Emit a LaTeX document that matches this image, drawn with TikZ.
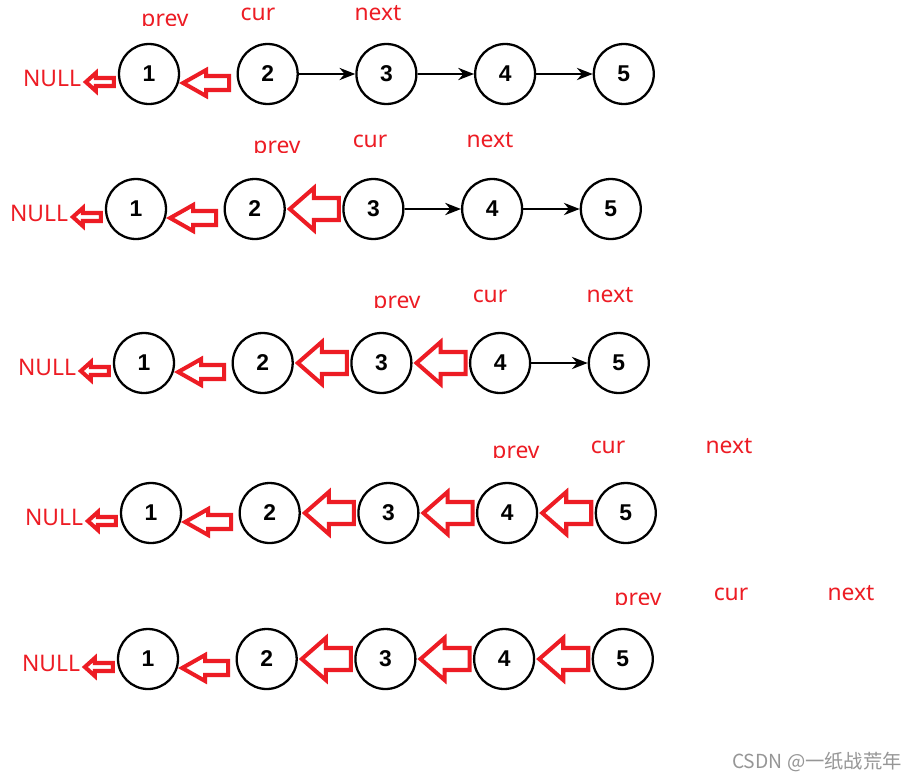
\documentclass[tikz,border=0pt]{standalone}
\usepackage{fontspec}
\usepackage{tikz}
\usetikzlibrary{arrows.meta,calc}
\newfontfamily\lblfont{Noto Sans}
\newfontfamily\numfont{Liberation Sans}
\newfontfamily\cjk{Noto Sans CJK SC}
\definecolor{arrowred}{RGB}{237,28,36}
\definecolor{markgray}{RGB}{150,150,150}

% hollow arrow: tip, length, head length, head half height, body half height
\newcommand\hollowarrow[5]{%
	\draw[hollow] (#1) -- ++(#3,-#4) -- ++(0,{#4-#5}) -- ++({#2-#3},0)
		-- ++(0,{2*#5}) -- ++({#3-#2},0) -- ++(0,{#4-#5}) -- cycle;}

\tikzset{
	listnode/.style={circle, draw, line width=1.3pt, minimum size=1.2cm, inner sep=0pt,
		font=\numfont\bfseries\fontsize{13}{15}\selectfont},
	lbl/.style={text=arrowred, inner sep=0pt, font=\lblfont\fontsize{13}{15}\selectfont},
	hollow/.style={draw=arrowred, line width=2.3pt, line join=miter},
	link/.style={line width=0.9pt, -{Stealth[length=9pt,width=7pt]}}
}

\begin{document}
\begin{tikzpicture}[x=0.02cm, y=-0.02cm]
	\useasboundingbox[fill=white] (0,0) rectangle (918,781);

	\foreach \r/\y/\x in {1/74/149, 2/209/136, 3/363/144, 4/513/151, 5/659/148} {
		\foreach \k in {1,...,5}
			\node[listnode] (n\r\k) at ({\x+(\k-1)*118.7},\y) {\k};
		\node[lbl] (null\r) at ({\x-97},{\y+4}) {NULL};
		\hollowarrow{$(n\r1.west)+(-32,8)$}{28}{10}{9}{4}
		\hollowarrow{$(n\r1.east)+(3,9)$}{46}{23}{13}{7}
		\foreach \k in {2,3,4} {
			\pgfmathtruncatemacro\n{\k+1}
			\ifnum\k>\r
				\draw[link] (n\r\k) -- (n\r\n);
			\else
				\hollowarrow{$(n\r\k.east)+(4,0)$}{49}{24}{21}{11}
			\fi
		}
	}

	\foreach \r/\px/\pb/\cx/\nx/\cb in {1/165/26/258/378/20, 2/277/153/370/490/147,
			3/397/308/490/610/302, 4/516/458/608/729/453, 5/638/605/731/851/600} {
		\begin{scope}
			\clip ({\px-40},{\pb-40}) rectangle ({\px+40},{\pb-1});
			\node[lbl, anchor=base] (prev\r) at (\px,\pb) {prev};
		\end{scope}
		\node[lbl, anchor=base] (cur\r) at (\cx,\cb) {cur};
		\node[lbl, anchor=base] (next\r) at (\nx,\cb) {next};
	}

	\node[text=markgray, anchor=base, font=\cjk\fontsize{11}{13}\selectfont] (mark) at (817,768) {CSDN @一纸战荒年};
\end{tikzpicture}
\end{document}
